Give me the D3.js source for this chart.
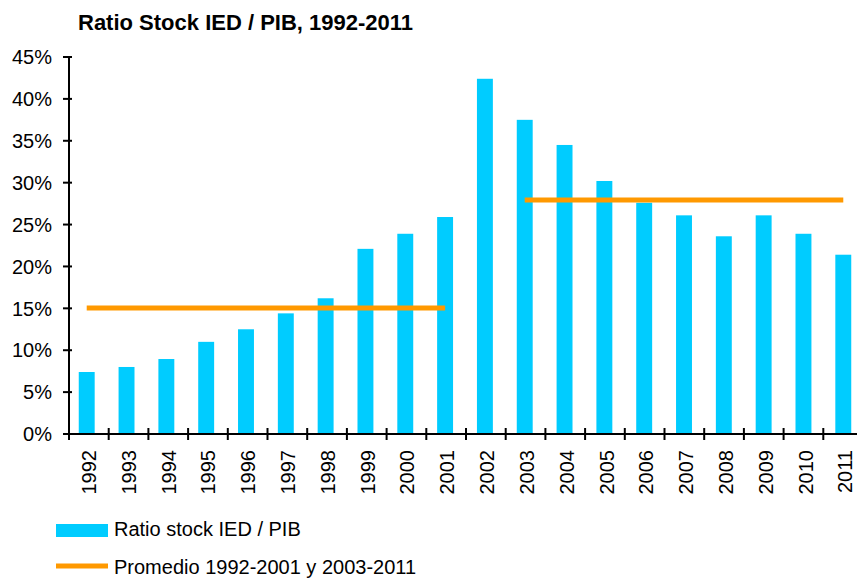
<!DOCTYPE html>
<html>
<head>
<meta charset="utf-8">
<script src="https://cdn.jsdelivr.net/npm/d3@7"></script>
<style>
  html, body { margin: 0; padding: 0; background: #fff; }
  svg { display: block; font-family: "Liberation Sans", Arial, sans-serif; }
</style>
</head>
<body>
<svg id="chart" width="857" height="578"></svg>
<script>
const years = ["1992","1993","1994","1995","1996","1997","1998","1999","2000","2001",
               "2002","2003","2004","2005","2006","2007","2008","2009","2010","2011"];
const ratio = [7.4, 8.0, 8.95, 11.0, 12.5, 14.4, 16.2, 22.1, 23.9, 25.9,
               42.4, 37.5, 34.5, 30.2, 27.6, 26.1, 23.6, 26.1, 23.9, 21.4];
const avgPeriods = [
  {from: "1992", to: "2001", value: 15.05},
  {from: "2003", to: "2011", value: 27.93}
];
const yTicks = [0, 5, 10, 15, 20, 25, 30, 35, 40, 45];
const titleText = "Ratio Stock IED / PIB, 1992-2011";
const legendLabels = ["Ratio stock IED / PIB", "Promedio 1992-2001 y 2003-2011"];
const barColor = "#00CCFF";
const lineColor = "#FF9900";

const svg = d3.select("#chart");
const mLeft = 69, mRight = 863, mTop = 57, mBottom = 434;

const x = d3.scaleBand().domain(years).range([mLeft, mRight]).paddingInner(0.6).paddingOuter(0.27);
const xTick = d3.scaleLinear().domain([0, years.length]).range([mLeft, mRight]);
const y = d3.scaleLinear().domain([0, 45]).range([mBottom, mTop]);

// title
svg.append("text").attr("x", 78).attr("y", 30)
  .attr("font-size", 22).attr("font-weight", "bold").attr("fill", "#000")
  .text(titleText);

// bars
svg.append("g").selectAll("rect").data(years).join("rect")
  .attr("x", d => x(d) - 1)
  .attr("width", x.bandwidth())
  .attr("y", (d, i) => y(ratio[i]))
  .attr("height", (d, i) => y(0) - y(ratio[i]))
  .attr("fill", barColor);

// average lines
const center = d => x(d) - 1 + x.bandwidth() / 2;
svg.append("g").selectAll("line").data(avgPeriods).join("line")
  .attr("x1", d => center(d.from))
  .attr("x2", d => center(d.to))
  .attr("y1", d => y(d.value))
  .attr("y2", d => y(d.value))
  .attr("stroke", lineColor).attr("stroke-width", 5);

// y axis
const yAxis = svg.append("g");
yAxis.append("line").attr("x1", mLeft).attr("x2", mLeft).attr("y1", y(45)).attr("y2", y(0))
  .attr("stroke", "#000").attr("stroke-width", 2);
yAxis.selectAll("line.t").data(yTicks).join("line").attr("class", "t")
  .attr("x1", mLeft - 6).attr("x2", mLeft + 3)
  .attr("y1", d => y(d)).attr("y2", d => y(d))
  .attr("stroke", "#000").attr("stroke-width", 2);
yAxis.selectAll("text").data(yTicks).join("text")
  .attr("x", 52).attr("y", d => y(d)).attr("dy", "0.36em")
  .attr("text-anchor", "end").attr("font-size", 20).attr("fill", "#000")
  .text(d => d + "%");

// x axis
const xAxis = svg.append("g");
xAxis.append("line").attr("x1", mLeft - 3).attr("x2", mRight).attr("y1", mBottom).attr("y2", mBottom)
  .attr("stroke", "#000").attr("stroke-width", 2);
xAxis.selectAll("line.t").data(d3.range(years.length + 1)).join("line").attr("class", "t")
  .attr("x1", d => xTick(d)).attr("x2", d => xTick(d))
  .attr("y1", mBottom - 6).attr("y2", mBottom + 6)
  .attr("stroke", "#000").attr("stroke-width", 2);
xAxis.selectAll("text").data(years).join("text")
  .attr("transform", d => `translate(${x(d) + x.bandwidth() / 2 + 1},450) rotate(-90)`)
  .attr("dy", "0.36em").attr("text-anchor", "end")
  .attr("font-size", 20).attr("fill", "#000")
  .text(d => d);

// legend
const lg = svg.append("g");
lg.append("rect").attr("x", 56).attr("y", 524).attr("width", 52).attr("height", 13).attr("fill", barColor);
lg.append("text").attr("x", 114).attr("y", 536).attr("font-size", 20).attr("fill", "#000").text(legendLabels[0]);
lg.append("line").attr("x1", 56).attr("x2", 108).attr("y1", 566).attr("y2", 566)
  .attr("stroke", lineColor).attr("stroke-width", 5);
lg.append("text").attr("x", 114).attr("y", 574).attr("font-size", 20).attr("fill", "#000").text(legendLabels[1]);
</script>
</body>
</html>
